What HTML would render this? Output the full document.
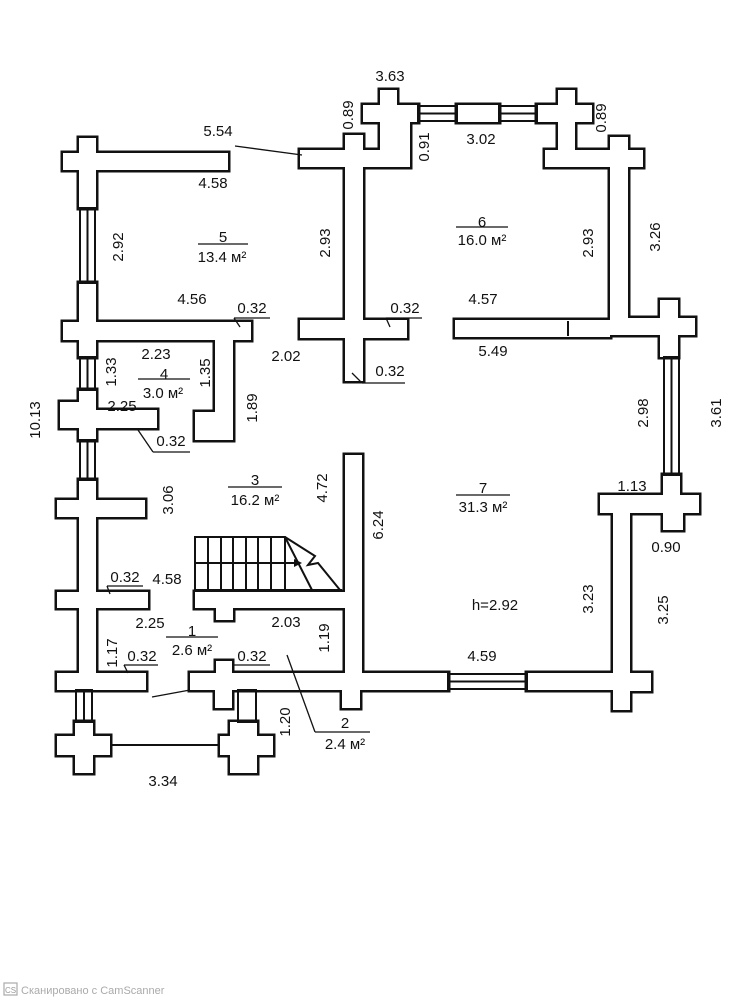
<!DOCTYPE html>
<html><head><meta charset="utf-8"><style>
html,body{margin:0;padding:0;background:#fff}
svg{display:block}
text{font-family:"Liberation Sans",sans-serif;font-size:15px;fill:#111}
</style></head><body>
<svg width="741" height="1000" viewBox="0 0 741 1000" xmlns="http://www.w3.org/2000/svg">
<defs>
<g id="w">
<rect x="79" y="138" width="17" height="70"/>
<rect x="63" y="153" width="165" height="17"/>
<rect x="79" y="283" width="17" height="74"/>
<rect x="63" y="322" width="33" height="18"/>
<rect x="96" y="322" width="155" height="18"/>
<polygon points="215,338 233,338 233,440 195,440 195,412 215,412"/>
<rect x="79" y="390" width="17" height="50"/>
<rect x="60" y="402" width="36" height="26"/>
<rect x="96" y="410" width="61" height="18"/>
<rect x="79" y="480" width="17" height="210"/>
<rect x="57" y="500" width="39" height="17"/>
<rect x="96" y="500" width="49" height="17"/>
<rect x="57" y="592" width="39" height="16"/>
<rect x="96" y="592" width="52" height="16"/>
<rect x="57" y="673" width="89" height="17"/>
<rect x="75" y="722" width="18" height="51"/>
<rect x="57" y="736" width="53" height="19"/>
<rect x="230" y="722" width="27" height="51"/>
<rect x="220" y="736" width="53" height="19"/>
<rect x="190" y="673" width="258" height="17"/>
<rect x="527" y="673" width="101" height="17"/>
<rect x="215" y="690" width="17" height="18"/>
<rect x="216" y="661" width="16" height="12"/>
<rect x="342" y="690" width="18" height="18"/>
<rect x="613" y="495" width="17" height="215"/>
<rect x="613" y="673" width="38" height="18"/>
<rect x="600" y="495" width="99" height="18"/>
<rect x="663" y="495" width="20" height="35"/>
<rect x="663" y="475" width="17" height="20"/>
<rect x="660" y="300" width="18" height="57"/>
<rect x="628" y="318" width="67" height="17"/>
<rect x="610" y="137" width="18" height="198"/>
<rect x="610" y="150" width="33" height="17"/>
<rect x="558" y="90" width="17" height="77"/>
<rect x="545" y="150" width="65" height="17"/>
<rect x="537" y="105" width="55" height="17"/>
<rect x="380" y="90" width="17" height="60"/>
<rect x="363" y="105" width="55" height="17"/>
<rect x="397" y="122" width="13" height="45"/>
<rect x="300" y="150" width="110" height="17"/>
<rect x="345" y="135" width="18" height="20"/>
<rect x="457" y="105" width="42" height="17"/>
<rect x="345" y="167" width="18" height="214"/>
<rect x="300" y="320" width="107" height="18"/>
<rect x="455" y="320" width="155" height="17"/>
<rect x="345" y="455" width="17" height="218"/>
<rect x="195" y="592" width="150" height="16"/>
<rect x="216" y="608" width="17" height="12"/>
</g>
</defs>
<use href="#w" fill="#fff" stroke="#111" stroke-width="5"/>
<use href="#w" fill="#fff" stroke="none"/>
<g stroke="#111" stroke-width="2" fill="none">
<rect x="80" y="208" width="15" height="75"/><line x1="87.5" y1="208" x2="87.5" y2="283"/>
<rect x="80" y="357" width="15" height="33"/><line x1="87.5" y1="357" x2="87.5" y2="390"/>
<rect x="80" y="440" width="15" height="40"/><line x1="87.5" y1="440" x2="87.5" y2="480"/>
<rect x="76" y="690" width="16" height="32"/><line x1="84" y1="690" x2="84" y2="722"/>
<rect x="238" y="690" width="18" height="32"/>
<rect x="418" y="106" width="39" height="15"/><line x1="418" y1="113.5" x2="457" y2="113.5"/>
<rect x="499" y="106" width="38" height="15"/><line x1="499" y1="113.5" x2="537" y2="113.5"/>
<rect x="448" y="674" width="79" height="15"/><line x1="448" y1="681.5" x2="527" y2="681.5"/>
<rect x="664" y="357" width="15" height="118"/><line x1="671.5" y1="357" x2="671.5" y2="475"/>
<line x1="568" y1="321" x2="568" y2="336"/>
<line x1="110" y1="745" x2="220" y2="745"/>
<polyline points="195,592 195,537 285,537 312,590"/>
<line x1="195" y1="590" x2="342" y2="590"/>
<line x1="195" y1="563" x2="285" y2="563"/>
<line x1="208" y1="537" x2="208" y2="590"/><line x1="221" y1="537" x2="221" y2="590"/>
<line x1="233" y1="537" x2="233" y2="590"/><line x1="246" y1="537" x2="246" y2="590"/>
<line x1="258" y1="537" x2="258" y2="590"/><line x1="271" y1="537" x2="271" y2="590"/>
<line x1="285" y1="537" x2="285" y2="590"/>
<polyline points="285,537 315,556 308,565 318,563 340,590"/>
<line x1="285" y1="563" x2="296" y2="563"/>
</g>
<polygon points="294,559 302,563 294,567" fill="#111"/>
<g stroke="#111" stroke-width="1.3" fill="none">
<line x1="235" y1="146" x2="302" y2="155"/>
<line x1="152" y1="697" x2="190" y2="690"/>
<line x1="287" y1="655" x2="315" y2="732"/><line x1="315" y1="732" x2="370" y2="732"/>
<line x1="234" y1="318" x2="270" y2="318"/><line x1="234" y1="318" x2="240" y2="327"/>
<line x1="386" y1="318" x2="422" y2="318"/><line x1="386" y1="318" x2="390" y2="327"/>
<line x1="362" y1="383" x2="405" y2="383"/><line x1="362" y1="383" x2="352" y2="373"/>
<line x1="153" y1="452" x2="190" y2="452"/><line x1="153" y1="452" x2="138" y2="430"/>
<line x1="107" y1="586" x2="143" y2="586"/><line x1="107" y1="586" x2="110" y2="594"/>
<line x1="124" y1="665" x2="158" y2="665"/><line x1="124" y1="665" x2="128" y2="673"/>
<line x1="234" y1="665" x2="270" y2="665"/>
<line x1="198" y1="244" x2="248" y2="244"/>
<line x1="456" y1="227" x2="508" y2="227"/>
<line x1="138" y1="379" x2="190" y2="379"/>
<line x1="228" y1="487" x2="282" y2="487"/>
<line x1="456" y1="495" x2="510" y2="495"/>
<line x1="166" y1="637" x2="218" y2="637"/>
</g>
<g text-anchor="middle">
<text x="390" y="81">3.63</text>
<text x="481" y="144">3.02</text>
<text x="218" y="136">5.54</text>
<text x="213" y="188">4.58</text>
<text x="223" y="242">5</text><text x="222" y="262">13.4 м²</text>
<text x="482" y="227">6</text><text x="482" y="245">16.0 м²</text>
<text x="192" y="304">4.56</text>
<text x="252" y="313">0.32</text>
<text x="405" y="313">0.32</text>
<text x="483" y="304">4.57</text>
<text x="493" y="356">5.49</text>
<text x="286" y="361">2.02</text>
<text x="390" y="376">0.32</text>
<text x="156" y="359">2.23</text>
<text x="164" y="379">4</text><text x="163" y="398">3.0 м²</text>
<text x="122" y="411">2.25</text>
<text x="171" y="446">0.32</text>
<text x="255" y="485">3</text><text x="255" y="505">16.2 м²</text>
<text x="483" y="493">7</text><text x="483" y="512">31.3 м²</text>
<text x="632" y="491">1.13</text>
<text x="666" y="552">0.90</text>
<text x="125" y="582">0.32</text>
<text x="167" y="584">4.58</text>
<text x="495" y="610">h=2.92</text>
<text x="150" y="628">2.25</text>
<text x="286" y="627">2.03</text>
<text x="192" y="636">1</text><text x="192" y="655">2.6 м²</text>
<text x="142" y="661">0.32</text>
<text x="252" y="661">0.32</text>
<text x="482" y="661">4.59</text>
<text x="345" y="728">2</text><text x="345" y="749">2.4 м²</text>
<text x="163" y="786">3.34</text>
</g>
<g text-anchor="middle">
<text transform="translate(353,115) rotate(-90)">0.89</text>
<text transform="translate(429,147) rotate(-90)">0.91</text>
<text transform="translate(606,118) rotate(-90)">0.89</text>
<text transform="translate(123,247) rotate(-90)">2.92</text>
<text transform="translate(330,243) rotate(-90)">2.93</text>
<text transform="translate(593,243) rotate(-90)">2.93</text>
<text transform="translate(660,237) rotate(-90)">3.26</text>
<text transform="translate(40,420) rotate(-90)">10.13</text>
<text transform="translate(116,372) rotate(-90)">1.33</text>
<text transform="translate(210,373) rotate(-90)">1.35</text>
<text transform="translate(257,408) rotate(-90)">1.89</text>
<text transform="translate(648,413) rotate(-90)">2.98</text>
<text transform="translate(721,413) rotate(-90)">3.61</text>
<text transform="translate(327,488) rotate(-90)">4.72</text>
<text transform="translate(173,500) rotate(-90)">3.06</text>
<text transform="translate(383,525) rotate(-90)">6.24</text>
<text transform="translate(593,599) rotate(-90)">3.23</text>
<text transform="translate(668,610) rotate(-90)">3.25</text>
<text transform="translate(329,638) rotate(-90)">1.19</text>
<text transform="translate(117,653) rotate(-90)">1.17</text>
<text transform="translate(290,722) rotate(-90)">1.20</text>
</g>
<rect x="4" y="983" width="13" height="12" fill="none" stroke="#aaa" stroke-width="1.2"/>
<text x="10.5" y="993" text-anchor="middle" style="font-size:8px;fill:#999">CS</text>
<text x="21" y="994" style="font-size:11px;fill:#aaa">Сканировано с CamScanner</text>
</svg>
</body></html>
